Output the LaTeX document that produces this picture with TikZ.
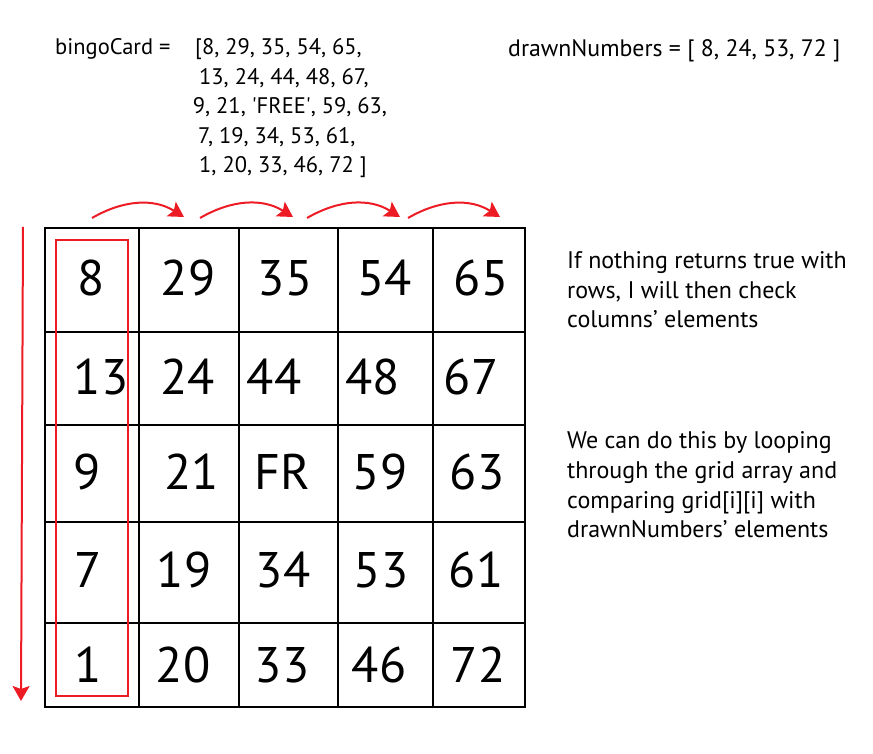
\documentclass[tikz,border=0pt]{standalone}
\usepackage{fontspec}
\setmainfont{PT Sans}
\usetikzlibrary{arrows.meta,positioning}
\definecolor{markred}{RGB}{237,28,36}

\tikzset{
  redarrow/.style={markred, line width=2pt, -{Stealth[length=15pt,width=17pt,inset=3pt]}},
  cell/.style={anchor=base, inner sep=0pt, font=\fontsize{50}{50}\selectfont},
  codeline/.style={anchor=base west, inner sep=0pt, font=\fontsize{22.5}{29.5}\selectfont},
  noteline/.style={anchor=base west, inner sep=0pt, align=left, font=\fontsize{24}{29.7}\selectfont}
}

\begin{document}
\begin{tikzpicture}[x=1pt, y=1pt]
	\useasboundingbox (0,0) rectangle (873,753);
	% the card
	\begin{scope}[every path/.style={line width=2pt}]
		\draw (45,46) rectangle (524.5,525);
		\foreach \x in {139,238.5,337.5,433}
			\draw (\x,46) -- (\x,525);
		\foreach \y in {421,328,231,130.5}
			\draw (45,\y) -- (524.5,\y);
	\end{scope}
	\begin{scope}[every node/.style={cell}]
		\node (c11) at (91,457) {8};
		\node (c12) at (188,457) {29};
		\node (c13) at (285,457) {35};
		\node (c14) at (384.5,457) {54};
		\node (c15) at (481,457) {65};
		\node (c21) at (101,358) {13};
		\node (c22) at (187.5,358) {24};
		\node (c23) at (274,358) {44};
		\node (c24) at (372.5,358) {48};
		\node (c25) at (471,358) {67};
		\node (c31) at (87.5,263) {9};
		\node (c32) at (191.5,263) {21};
		\node (c33) at (282,263) {FR};
		\node (c34) at (380,263) {59};
		\node (c35) at (477,263) {63};
		\node (c41) at (88,165) {7};
		\node (c42) at (184,165) {19};
		\node (c43) at (283,165) {34};
		\node (c44) at (381,165) {53};
		\node (c45) at (476,165) {61};
		\node (c51) at (88,71) {1};
		\node (c52) at (183,71) {20};
		\node (c53) at (282,71) {33};
		\node (c54) at (379,71) {46};
		\node (c55) at (478,71) {72};
	\end{scope}
	% first column marked
	\draw[markred, line width=2pt] (55.7,57.3) rectangle (127.7,513);
	\coordinate (down1) at (23,526);
	\coordinate (down2) at (21,52);
	\draw[redarrow] (down1) -- (down2);
	% row steps
	\foreach \s/\e [count=\i] in {92/184, 200/293, 307/400, 408/500} {
		\coordinate (from\i) at (\s,535);
		\coordinate (to\i) at (\e,536);
		\draw[redarrow] (from\i) to[out=30, in=148] (to\i);
	}
	% texts
	\begin{scope}[every node/.style={codeline}]
		\node (card) at (55,698) {bingoCard =};
		\node (list1) at (195,698) {[8, 29, 35, 54, 65,};
		\node (list2) at (199,668) {13, 24, 44, 48, 67,};
		\node (list3) at (192.7,639) {9, 21, {\textquotesingle}FREE{\textquotesingle}, 59, 63,};
		\node (list4) at (198,609) {7, 19, 34, 53, 61,};
		\node (list5) at (199,580) {1, 20, 33, 46, 72 ]};
		\node[font=\fontsize{23.8}{29.5}\selectfont] (drawn) at (508,696) {drawnNumbers = [ 8, 24, 53, 72 ]};
	\end{scope}
	% base of a note is its last line
	\node[noteline] (note1) at (567,425) {If nothing returns true with\\rows, I will then check\\columns’ elements};
	\node[noteline] (note2) at (567,215) {We can do this by looping\\through the grid array and\\comparing grid[i][i] with\\drawnNumbers’ elements};
\end{tikzpicture}
\end{document}
